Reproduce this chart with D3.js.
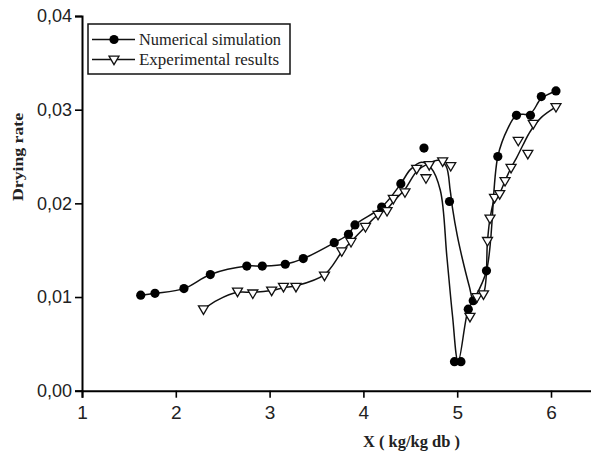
<!DOCTYPE html>
<html>
<head>
<meta charset="utf-8">
<script src="https://cdn.jsdelivr.net/npm/d3@7"></script>
<style>
  html, body { margin: 0; padding: 0; background: #fff; }
  svg { display: block; }
</style>
</head>
<body>
<svg id="chart" width="591" height="455"></svg>
<script>
// ---- data ----
const xTicks = [1, 2, 3, 4, 5, 6];
const yTicks = [0.00, 0.01, 0.02, 0.03, 0.04];
const seriesNames = ["Numerical simulation", "Experimental results"];

// Numerical simulation: markers
const numX = [1.626, 1.778, 2.087, 2.368, 2.757, 2.922, 3.167, 3.359, 3.689, 3.841, 3.910, 4.195, 4.399, 4.646, 4.918, 4.971, 5.040, 5.118, 5.171, 5.312, 5.433, 5.632, 5.781, 5.897, 6.053];
const numY = [0.0102, 0.0104, 0.0109, 0.0124, 0.0133, 0.0133, 0.0135, 0.0141, 0.0158, 0.0167, 0.0177, 0.0196, 0.0221, 0.0259, 0.0202, 0.0031, 0.0031, 0.0087, 0.0096, 0.0128, 0.0250, 0.0294, 0.0294, 0.0314, 0.0320];

// Experimental results: markers
const expX = [2.295, 2.658, 2.821, 3.022, 3.148, 3.281, 3.585, 3.769, 3.868, 4.022, 4.156, 4.252, 4.319, 4.443, 4.568, 4.667, 4.702, 4.845, 4.931, 5.136, 5.211, 5.280, 5.323, 5.350, 5.398, 5.453, 5.510, 5.574, 5.651, 5.753, 5.811, 6.053];
const expY = [0.0087, 0.0106, 0.0104, 0.0107, 0.0111, 0.0111, 0.0123, 0.0149, 0.0159, 0.0175, 0.0188, 0.0192, 0.0205, 0.0212, 0.0237, 0.0227, 0.0241, 0.0245, 0.0240, 0.0079, 0.0100, 0.0103, 0.0160, 0.0184, 0.0206, 0.0210, 0.0224, 0.0238, 0.0267, 0.0253, 0.0285, 0.0303];

// Smoothed fit curves (as traced in the picture)
const numFitX = [1.626, 1.778, 2.087, 2.368, 2.757, 2.922, 3.167, 3.359, 3.689, 3.841, 3.910, 4.195, 4.399, 4.50, 4.62, 4.72, 4.82, 4.89, 4.95, 5.01, 5.118, 5.171, 5.312, 5.433, 5.54, 5.632, 5.781, 5.897, 6.053];
const numFitY = [0.0102, 0.0104, 0.0109, 0.0124, 0.0133, 0.0133, 0.0135, 0.0141, 0.0158, 0.0167, 0.0177, 0.0196, 0.0221, 0.0236, 0.0244, 0.0238, 0.0214, 0.0143, 0.0080, 0.0031, 0.0087, 0.0096, 0.0128, 0.0250, 0.0280, 0.0294, 0.0296, 0.0312, 0.0320];

const expFitX = [2.295, 2.45, 2.658, 2.821, 3.022, 3.148, 3.281, 3.585, 3.769, 3.868, 4.022, 4.156, 4.252, 4.33, 4.443, 4.568, 4.70, 4.80, 4.88, 4.925, 4.95, 5.00, 5.05, 5.13, 5.171, 5.211, 5.280, 5.323, 5.350, 5.398, 5.453, 5.510, 5.574, 5.63, 5.70, 5.78, 5.90, 6.053];
const expFitY = [0.0087, 0.0097, 0.0105, 0.0105, 0.0107, 0.0110, 0.0112, 0.0124, 0.0148, 0.0159, 0.0175, 0.0188, 0.0194, 0.0203, 0.0215, 0.0234, 0.0243, 0.0246, 0.0240, 0.0214, 0.0195, 0.0166, 0.0143, 0.0111, 0.0097, 0.0099, 0.0104, 0.0160, 0.0184, 0.0204, 0.0211, 0.0224, 0.0238, 0.0248, 0.0262, 0.0277, 0.0292, 0.0303];

// ---- drawing ----
const svg = d3.select("#chart");
svg.append("rect").attr("width", 591).attr("height", 455).attr("fill", "#fff");

const x = d3.scaleLinear().domain([1, 7]).range([82, 82 + 6 * 93.8]);
const y = d3.scaleLinear().domain([0, 0.04]).range([390.7, 16]);

const fmt = v => d3.format(".2f")(v).replace(".", ",");

// minor ticks
const xMinor = d3.range(1.5, 7, 1);
const yMinor = d3.range(0.005, 0.04, 0.01);

const gx = svg.append("g").attr("transform", `translate(0,${y(0)})`);
gx.call(d3.axisBottom(x).tickValues(xMinor).tickSize(5).tickFormat(""));
gx.call(d3.axisBottom(x).tickValues(xTicks).tickSize(7).tickPadding(8).tickFormat(d3.format("d")));
gx.selectAll(".domain").attr("stroke", "#000").attr("stroke-width", 2);
gx.selectAll(".tick line").attr("stroke", "#000").attr("stroke-width", 1.6);
gx.selectAll(".tick text").attr("font-family", "Liberation Sans, Arial, sans-serif").attr("font-size", 19).attr("fill", "#222");

const gy = svg.append("g").attr("transform", `translate(${x(1)},0)`);
gy.call(d3.axisLeft(y).tickValues(yMinor).tickSize(5).tickFormat(""));
gy.call(d3.axisLeft(y).tickValues(yTicks).tickSize(7).tickPadding(3).tickFormat(fmt));
gy.selectAll(".domain").attr("stroke", "#000").attr("stroke-width", 2);
gy.selectAll(".tick line").attr("stroke", "#000").attr("stroke-width", 1.6);
gy.selectAll(".tick text").attr("font-family", "Liberation Sans, Arial, sans-serif").attr("font-size", 18).attr("fill", "#222");

// axis titles
svg.append("text")
  .attr("x", 411.5).attr("y", 446.5)
  .attr("text-anchor", "middle")
  .attr("font-family", "Liberation Serif, Times New Roman, serif")
  .attr("font-weight", "bold").attr("font-size", 16).attr("fill", "#222")
  .attr("textLength", 97).attr("lengthAdjust", "spacingAndGlyphs")
  .text("X ( kg/kg db )");

svg.append("text")
  .attr("transform", "translate(23,157) rotate(-90)")
  .attr("text-anchor", "middle")
  .attr("font-family", "Liberation Serif, Times New Roman, serif")
  .attr("font-weight", "bold").attr("font-size", 14.5).attr("fill", "#222")
  .attr("textLength", 88).attr("lengthAdjust", "spacingAndGlyphs")
  .text("Drying rate");

// curves
const line = d3.line().x(d => x(d[0])).y(d => y(d[1])).curve(d3.curveCatmullRom.alpha(0.5));
svg.append("path")
  .datum(d3.zip(numFitX, numFitY))
  .attr("d", line).attr("fill", "none").attr("stroke", "#111").attr("stroke-width", 1.5);
svg.append("path")
  .datum(d3.zip(expFitX, expFitY))
  .attr("d", line).attr("fill", "none").attr("stroke", "#111").attr("stroke-width", 1.5);

// markers
const triPath = "M-5,-3.3L5,-3.3L0,5.2Z";
svg.append("g").selectAll("circle")
  .data(d3.zip(numX, numY)).join("circle")
  .attr("cx", d => x(d[0])).attr("cy", d => y(d[1]))
  .attr("r", 4.6).attr("fill", "#000");
svg.append("g").selectAll("path")
  .data(d3.zip(expX, expY)).join("path")
  .attr("transform", d => `translate(${x(d[0])},${y(d[1])})`)
  .attr("d", triPath).attr("fill", "#fff").attr("stroke", "#111").attr("stroke-width", 1.3);

// legend
const lg = svg.append("g");
lg.append("rect").attr("x", 88).attr("y", 24).attr("width", 202).attr("height", 50)
  .attr("fill", "#fff").attr("stroke", "#111").attr("stroke-width", 1.5);
const rows = [39.5, 59.5];
seriesNames.forEach((name, i) => {
  const ry = rows[i];
  lg.append("line").attr("x1", 92).attr("x2", 135).attr("y1", ry).attr("y2", ry)
    .attr("stroke", "#111").attr("stroke-width", 1.5);
  if (i === 0) {
    lg.append("circle").attr("cx", 114).attr("cy", ry).attr("r", 4.6).attr("fill", "#000");
  } else {
    lg.append("path").attr("transform", `translate(114,${ry})`).attr("d", triPath)
      .attr("fill", "#fff").attr("stroke", "#111").attr("stroke-width", 1.3);
  }
  lg.append("text").attr("x", 139).attr("y", ry + 5)
    .attr("font-family", "Liberation Serif, Times New Roman, serif")
    .attr("font-size", 16).attr("fill", "#222")
    .attr("textLength", i === 0 ? 142 : 140).attr("lengthAdjust", "spacingAndGlyphs")
    .text(name);
});
</script>
</body>
</html>
